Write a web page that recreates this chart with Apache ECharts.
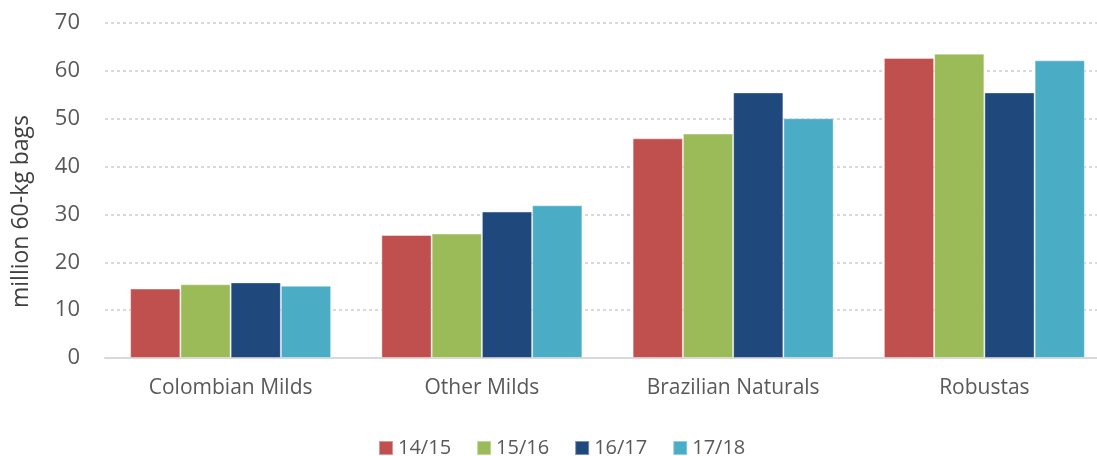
<!DOCTYPE html>
<html>
<head>
<meta charset="utf-8">
<script src="https://cdn.jsdelivr.net/npm/echarts@6/dist/echarts.min.js"></script>
<style>
  html, body { margin: 0; padding: 0; background: #fff; }
  #chart { width: 1097px; height: 456px; }
</style>
</head>
<body>
<div id="chart"></div>
<script>
// crop groups and seasons
var categories = ['Colombian Milds', 'Other Milds', 'Brazilian Naturals', 'Robustas']
var seasons = ['14/15', '15/16', '16/17', '17/18']
var colors = ['#C0504D', '#9BBB59', '#1F497D', '#4BACC6']

// million 60-kg bags, per season
var s1415 = [14.5, 25.7, 45.9, 62.7]
var s1516 = [15.4, 26.0, 46.9, 63.6]
var s1617 = [15.8, 30.6, 55.5, 55.5]
var s1718 = [15.1, 31.9, 50.1, 62.2]
var values = [s1415, s1516, s1617, s1718]

var font = '"Open Sans", sans-serif'

var chart = echarts.init(document.getElementById('chart'))
chart.setOption({
  animation: false,
  textStyle: { fontFamily: font },
  grid: {
    left: 105,
    top: 23,
    width: 1005,
    bottom: 98,
    outerBoundsMode: 'none'
  },
  legend: {
    data: seasons,
    top: 433,
    left: 373,
    itemWidth: 14,
    itemHeight: 14,
    itemGap: 25,
    icon: 'rect',
    textStyle: { fontSize: 20, color: '#595959', fontFamily: font }
  },
  xAxis: {
    type: 'category',
    data: categories,
    axisLine: { lineStyle: { color: '#d9d9d9', width: 2 } },
    axisTick: { show: false },
    axisLabel: { fontSize: 21, color: '#595959', margin: 20, fontFamily: font }
  },
  yAxis: {
    type: 'value',
    min: 0,
    max: 70,
    interval: 10,
    name: 'million 60-kg bags',
    nameLocation: 'middle',
    nameGap: 72,
    // title sits a little below the middle of the axis
    nameTextStyle: { fontSize: 23, color: '#404040', fontFamily: font, padding: [0, 42, 0, 0] },
    axisLabel: { fontSize: 22, color: '#595959', margin: 25, fontFamily: font },
    axisLine: { show: false },
    axisTick: { show: false },
    splitLine: { lineStyle: { color: '#d9d9d9', width: 2, type: [3, 3] } }
  },
  series: seasons.map(function (name, i) {
    return {
      name: name,
      type: 'bar',
      data: values[i],
      barGap: '0%',
      barCategoryGap: '20%',
      itemStyle: { color: colors[i], borderColor: 'rgba(255,255,255,0.4)', borderWidth: 1 }
    }
  })
})
</script>
</body>
</html>
